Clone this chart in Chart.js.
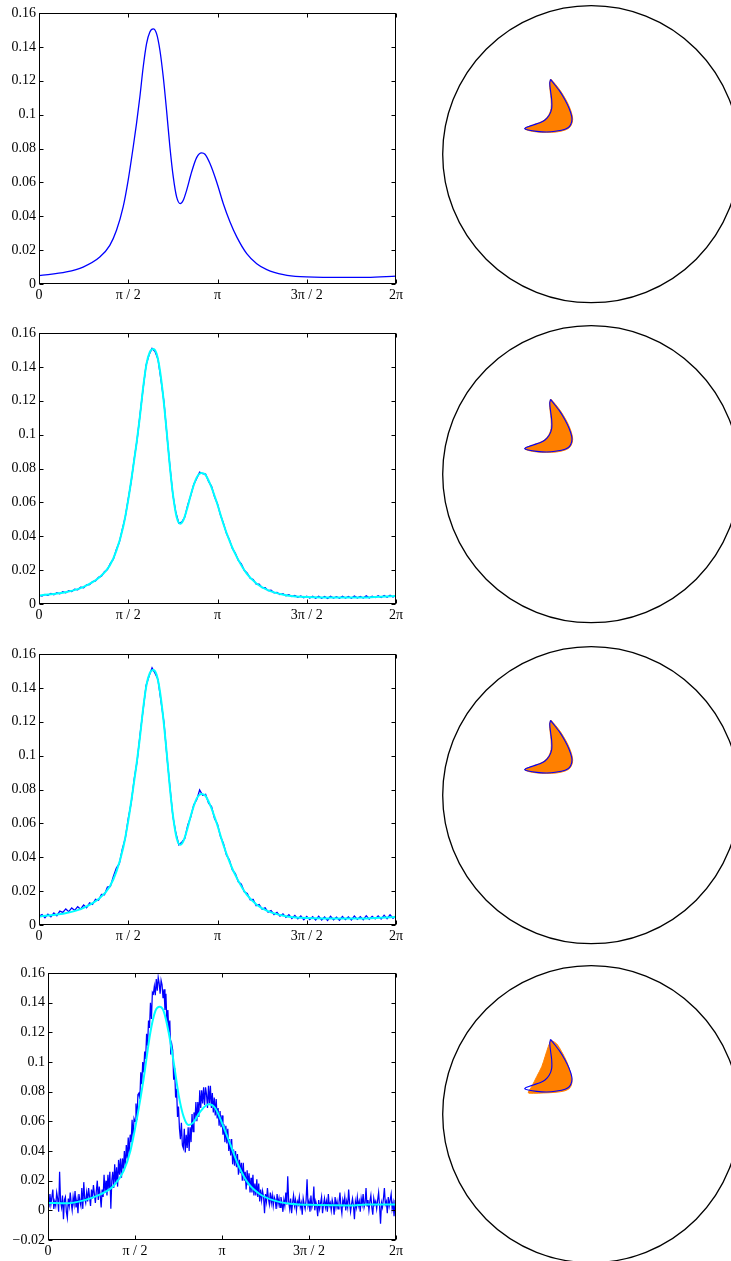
<!DOCTYPE html>
<html><head><meta charset="utf-8">
<script src="https://cdn.jsdelivr.net/npm/chart.js@4"></script>
<style>
html,body{margin:0;padding:0;background:#fff;}
body{width:731px;height:1261px;overflow:hidden;position:relative;}
canvas{position:absolute;}
</style></head><body>
<canvas id="p1" width="410" height="305" style="left:0;top:0"></canvas>
<canvas id="p2" width="410" height="305" style="left:0;top:320px"></canvas>
<canvas id="p3" width="410" height="305" style="left:0;top:641px"></canvas>
<canvas id="p4" width="410" height="301" style="left:0;top:960px"></canvas>
<canvas id="d1" width="301" height="310" style="left:430px;top:0"></canvas>
<canvas id="d2" width="301" height="310" style="left:430px;top:320px"></canvas>
<canvas id="d3" width="301" height="310" style="left:430px;top:641px"></canvas>
<canvas id="d4" width="301" height="301" style="left:430px;top:960px"></canvas>
<script>
// ---------- tick labels ----------
const xTickValues = [0, Math.PI/2, Math.PI, 3*Math.PI/2, 2*Math.PI];
const xTickLabels = ['0', 'π / 2', 'π', '3π / 2', '2π'];
const yTickValuesA = [0, 0.02, 0.04, 0.06, 0.08, 0.1, 0.12, 0.14, 0.16];
const yTickLabelsA = ['0', '0.02', '0.04', '0.06', '0.08', '0.1', '0.12', '0.14', '0.16'];
const yTickValuesB = [-0.02, 0, 0.02, 0.04, 0.06, 0.08, 0.1, 0.12, 0.14, 0.16];
const yTickLabelsB = ['\u22120.02', '0', '0.02', '0.04', '0.06', '0.08', '0.1', '0.12', '0.14', '0.16'];

// ---------- true density (row 1) and fits of rows 2-3 ----------
const trueTheta = [0, 0.482, 0.776, 1.070, 1.246, 1.364, 1.481, 1.569, 1.658, 1.716, 1.775, 1.834, 1.893, 1.951, 2.010, 2.069, 2.128, 2.187, 2.245, 2.304, 2.363, 2.422, 2.486, 2.539, 2.598, 2.686, 2.774, 2.862, 2.921, 3.009, 3.127, 3.244, 3.362, 3.480, 3.656, 3.832, 4.009, 4.303, 4.597, 5.184, 5.772, 6.283];
const trueValue = [0.0049, 0.0071, 0.0100, 0.0159, 0.0228, 0.0317, 0.0455, 0.0612, 0.0809, 0.0947, 0.1104, 0.1281, 0.1419, 0.1488, 0.1506, 0.1478, 0.1380, 0.1222, 0.1026, 0.0809, 0.0632, 0.0514, 0.0474, 0.0494, 0.0553, 0.0661, 0.0746, 0.0774, 0.0766, 0.0711, 0.0602, 0.0474, 0.0366, 0.0278, 0.0179, 0.0120, 0.0085, 0.0055, 0.0043, 0.0039, 0.0039, 0.0047];

// ---------- fit of row 4 ----------
const fit4Theta = [0, 0.343, 0.644, 0.945, 1.186, 1.366, 1.487, 1.607, 1.727, 1.848, 1.938, 2.016, 2.088, 2.179, 2.269, 2.359, 2.450, 2.540, 2.630, 2.750, 2.901, 3.021, 3.142, 3.292, 3.442, 3.623, 3.834, 4.074, 4.375, 4.857, 5.459, 5.760, 6.283];
const fit4Value = [0.0050, 0.0047, 0.0067, 0.0107, 0.0166, 0.0266, 0.0400, 0.0622, 0.0888, 0.1199, 0.1343, 0.1372, 0.1343, 0.1199, 0.0999, 0.0777, 0.0630, 0.0575, 0.0595, 0.0666, 0.0715, 0.0688, 0.0588, 0.0444, 0.0300, 0.0178, 0.0107, 0.0067, 0.0044, 0.0036, 0.0033, 0.0040, 0.0040];

// ---------- noisy samples (evenly spaced over [0, 2π]) ----------
const noisy2 = [0.0053,0.0047,0.0057,0.0051,0.0062,0.0055,0.0066,0.0060,0.0072,0.0066,
0.0078,0.0073,0.0088,0.0084,0.0099,0.0096,0.0113,0.0114,0.0132,0.0136,
0.0157,0.0164,0.0190,0.0203,0.0240,0.0265,0.0322,0.0364,0.0441,0.0514,
0.0621,0.0724,0.0856,0.0973,0.1124,0.1273,0.1411,0.1471,0.1509,0.1490,
0.1445,0.1325,0.1193,0.0998,0.0814,0.0645,0.0540,0.0477,0.0483,0.0513,
0.0585,0.0640,0.0705,0.0741,0.0778,0.0770,0.0767,0.0723,0.0695,0.0633,
0.0591,0.0525,0.0477,0.0417,0.0380,0.0328,0.0300,0.0258,0.0237,0.0199,
0.0182,0.0152,0.0145,0.0117,0.0117,0.0097,0.0097,0.0079,0.0081,0.0066,
0.0069,0.0056,0.0061,0.0049,0.0055,0.0044,0.0051,0.0040,0.0048,0.0037,
0.0046,0.0035,0.0045,0.0034,0.0046,0.0034,0.0044,0.0033,0.0045,0.0035,
0.0043,0.0034,0.0046,0.0035,0.0044,0.0034,0.0047,0.0036,0.0045,0.0035,
0.0048,0.0036,0.0046,0.0038,0.0048,0.0038,0.0050,0.0040,0.0052,0.0041,0.0051];

const noisy3 = [0.0052,0.0061,0.0043,0.0064,0.0049,0.0071,0.0055,0.0082,0.0074,0.0095,
0.0079,0.0101,0.0086,0.0108,0.0093,0.0118,0.0102,0.0131,0.0122,0.0152,
0.0146,0.0181,0.0179,0.0224,0.0228,0.0287,0.0336,0.0362,0.0448,0.0512,
0.0628,0.0722,0.0861,0.0970,0.1129,0.1271,0.1414,0.1470,0.1518,0.1486,
0.1449,0.1322,0.1197,0.0995,0.0818,0.0642,0.0543,0.0474,0.0489,0.0511,
0.0589,0.0638,0.0709,0.0739,0.0797,0.0766,0.0771,0.0719,0.0699,0.0629,
0.0595,0.0522,0.0481,0.0414,0.0384,0.0325,0.0304,0.0255,0.0241,0.0196,
0.0186,0.0149,0.0151,0.0114,0.0121,0.0094,0.0101,0.0076,0.0085,0.0062,
0.0075,0.0052,0.0066,0.0045,0.0061,0.0039,0.0057,0.0036,0.0053,0.0031,
0.0050,0.0032,0.0049,0.0029,0.0052,0.0030,0.0047,0.0027,0.0051,0.0031,
0.0046,0.0028,0.0050,0.0032,0.0048,0.0030,0.0053,0.0033,0.0049,0.0031,
0.0055,0.0034,0.0051,0.0036,0.0054,0.0035,0.0058,0.0037,0.0060,0.0040,0.0055];

const noisy4 = [
0.007,0.002,0.011,0.004,0.009,0.014,0.001,0.006,0.003,0.012,0.008,-0.001,0.026,0.006,0.002,0.010,-0.006,0.007,0.009,-0.001,
-0.005,0.008,0.003,0.012,0.005,0.000,0.009,0.004,0.013,0.002,0.007,-0.002,0.011,0.006,0.003,0.015,0.001,0.019,0.008,0.005,
0.012,0.006,0.015,0.009,0.003,0.014,0.008,0.017,0.011,0.005,0.013,0.020,0.007,0.016,0.010,0.002,0.014,0.009,0.024,0.012,
0.020,0.010,0.024,0.014,0.026,0.001,0.020,0.026,0.015,0.031,0.018,0.029,0.016,0.034,0.024,0.035,0.022,0.035,0.028,0.040,
0.029,0.044,0.035,0.049,0.037,0.051,0.046,0.061,0.049,0.062,0.060,0.072,0.061,0.078,0.079,0.075,0.093,0.085,0.100,0.093,
0.107,0.102,0.119,0.111,0.128,0.123,0.140,0.129,0.147,0.146,0.151,0.145,0.156,0.148,0.157,0.153,0.146,0.155,0.152,0.143,
0.149,0.135,0.146,0.126,0.135,0.120,0.128,0.105,0.112,0.108,0.088,0.096,0.076,0.082,0.063,0.070,0.055,0.048,0.059,0.044,
0.042,0.055,0.039,0.051,0.042,0.056,0.040,0.056,0.046,0.065,0.053,0.066,0.060,0.073,0.060,0.073,0.063,0.081,0.069,0.081,
0.072,0.083,0.071,0.083,0.078,0.069,0.084,0.072,0.084,0.069,0.079,0.066,0.076,0.064,0.075,0.062,0.069,0.057,0.067,0.056,
0.064,0.051,0.058,0.046,0.057,0.045,0.055,0.040,0.048,0.037,0.048,0.031,0.041,0.030,0.040,0.029,0.038,0.024,0.034,0.025,
0.032,0.020,0.032,0.020,0.026,0.014,0.027,0.017,0.025,0.012,0.022,0.012,0.024,0.010,0.018,0.010,0.021,0.009,0.018,0.006,
0.014,0.007,0.013,0.009,-0.002,0.011,0.006,0.015,0.008,0.004,0.012,0.005,0.010,0.003,0.009,0.007,0.001,0.011,0.004,0.008,
0.002,0.009,0.005,-0.001,0.007,0.003,0.012,0.004,0.023,0.006,0.001,0.008,-0.002,0.005,0.010,0.003,0.007,0.000,0.006,0.004,
0.009,0.002,0.005,-0.003,0.008,0.004,0.001,0.007,0.021,0.003,0.006,-0.001,0.010,0.002,0.005,0.016,0.000,0.006,0.003,-0.004,
0.007,0.001,0.005,0.009,-0.002,0.004,0.008,0.002,0.006,-0.001,0.011,0.003,0.005,0.000,0.007,0.004,-0.003,0.009,0.002,0.006,
0.001,0.005,0.012,0.003,-0.002,0.007,0.004,0.009,0.000,0.006,0.002,0.014,0.005,-0.001,0.004,0.008,0.003,-0.006,0.006,0.002,
0.009,0.003,0.006,-0.001,0.008,0.004,0.011,0.002,0.005,0.015,0.003,0.007,0.000,0.006,0.010,0.002,-0.003,0.008,0.004,0.006,
0.001,0.007,0.012,0.003,-0.009,0.005,0.002,0.008,0.015,0.004,0.006,-0.002,0.009,0.003,0.007,0.011,0.001,0.005,-0.004,0.006,0.005];

// ---------- crescent shapes in the unit disk (u = right, v = up) ----------
const shapeTrueU = [-0.274,-0.244,-0.210,-0.176,-0.149,-0.131,-0.131,-0.147,-0.176,-0.232,-0.300,-0.367,-0.424,-0.448,-0.434,-0.390,-0.345,-0.311,-0.282,-0.266,-0.266,-0.273,-0.279,-0.274];
const shapeTrueV = [0.504,0.466,0.421,0.365,0.309,0.253,0.219,0.185,0.168,0.156,0.150,0.154,0.163,0.172,0.181,0.197,0.212,0.230,0.264,0.309,0.365,0.421,0.477,0.504];
const shapeEstU = [-0.272,-0.240,-0.205,-0.170,-0.143,-0.126,-0.127,-0.144,-0.175,-0.232,-0.300,-0.367,-0.424,-0.448,-0.434,-0.390,-0.345,-0.313,-0.285,-0.270,-0.270,-0.276,-0.281,-0.272];
const shapeEstV = [0.506,0.470,0.424,0.366,0.309,0.252,0.216,0.181,0.163,0.150,0.147,0.150,0.160,0.172,0.182,0.198,0.214,0.232,0.266,0.309,0.365,0.421,0.477,0.506];
const shapeEst4U = [-0.271,-0.232,-0.199,-0.165,-0.138,-0.129,-0.143,-0.176,-0.244,-0.323,-0.390,-0.424,-0.401,-0.367,-0.333,-0.311,-0.289,-0.271];
const shapeEst4V = [0.500,0.473,0.421,0.354,0.275,0.219,0.178,0.158,0.147,0.143,0.141,0.145,0.185,0.253,0.320,0.387,0.455,0.500];
const diskCenterU = [0];
const diskCenterV = [0];

// ---------- helpers ----------
const TWO_PI = 2*Math.PI;
const pts = (xs, ys) => ys.map((y, i) => ({x: xs[i], y}));
const even = ys => ys.map((y, i) => ({x: i*TWO_PI/(ys.length-1), y}));

Chart.defaults.font.family = "'Liberation Serif','Times New Roman',serif";
Chart.defaults.font.size = 14;
Chart.defaults.color = '#000';

const frame = {
  id: 'frame',
  afterDraw(chart) {
    const {ctx, chartArea: a, scales: {x, y}} = chart;
    ctx.save();
    ctx.strokeStyle = '#000';
    ctx.lineWidth = 1;
    const L = Math.round(a.left) + 0.5, R = Math.round(a.right) - 0.5;
    const T = Math.round(a.top) + 0.5, B = Math.round(a.bottom) - 0.5;
    ctx.strokeRect(L, T, R - L, B - T);
    ctx.beginPath();
    x.ticks.forEach(t => {
      const p = Math.round(x.getPixelForValue(t.value)) + 0.5;
      ctx.moveTo(p, B); ctx.lineTo(p, B - 4);
      ctx.moveTo(p, T); ctx.lineTo(p, T + 4);
    });
    y.ticks.forEach(t => {
      const p = Math.round(y.getPixelForValue(t.value)) + 0.5;
      ctx.moveTo(L, p); ctx.lineTo(L + 4, p);
      ctx.moveTo(R, p); ctx.lineTo(R - 4, p);
    });
    ctx.stroke();
    ctx.restore();
  }
};

function smooth(data, color, width) {
  return {data, showLine: true, borderColor: color, borderWidth: width, pointRadius: 0,
          cubicInterpolationMode: 'monotone', fill: false};
}
function jagged(data, color, width) {
  return {data, showLine: true, borderColor: color, borderWidth: width, pointRadius: 0,
          tension: 0, fill: false};
}

function makePlot(id, datasets, yVals, yLabels, yMin, leftW) {
  new Chart(document.getElementById(id), {
    type: 'scatter',
    data: {datasets},
    options: {
      responsive: false, animation: false, events: [],
      layout: {autoPadding: false, padding: {top: 13, right: 14, left: 0, bottom: 0}},
      plugins: {legend: {display: false}, tooltip: {enabled: false}},
      scales: {
        x: {type: 'linear', min: 0, max: TWO_PI,
            grid: {display: false, drawTicks: false, tickLength: 0}, border: {display: false},
            afterBuildTicks: s => { s.ticks = xTickValues.map(v => ({value: v})); },
            ticks: {padding: 3, maxRotation: 0, autoSkip: false, callback: (v, i) => xTickLabels[i]},
            afterFit: s => { s.height = 21; }},
        y: {type: 'linear', min: yMin, max: 0.16,
            grid: {display: false, drawTicks: false, tickLength: 0}, border: {display: false},
            afterBuildTicks: s => { s.ticks = yVals.map(v => ({value: v})); },
            ticks: {padding: 3, autoSkip: false, callback: (v, i) => yLabels[i]},
            afterFit: s => { s.width = leftW; }}
      }
    },
    plugins: [frame]
  });
}

makePlot('p1', [smooth(pts(trueTheta, trueValue), '#0000ff', 1.3)], yTickValuesA, yTickLabelsA, 0, 39);
makePlot('p2', [smooth(pts(trueTheta, trueValue), '#00ffff', 2), jagged(even(noisy2), '#0000ff', 1.3)], yTickValuesA, yTickLabelsA, 0, 39);
makePlot('p3', [smooth(pts(trueTheta, trueValue), '#00ffff', 2), jagged(even(noisy3), '#0000ff', 1.3)], yTickValuesA, yTickLabelsA, 0, 39);
makePlot('p4', [smooth(pts(fit4Theta, fit4Value), '#00ffff', 2), jagged(even(noisy4), '#0000ff', 1.25)], yTickValuesB, yTickLabelsB, -0.02, 48);

function makeDisk(id, outline, shape, h) {
  const cx = 161.2, cy = 154.2, R = 148.5, W = 301;
  new Chart(document.getElementById(id), {
    type: 'scatter',
    data: {datasets: [
      {data: outline, showLine: true, borderColor: '#0000ff', borderWidth: 1.1, pointRadius: 0, tension: 0.3, fill: false},
      {data: shape, showLine: true, borderColor: '#ff8000', borderWidth: 1, backgroundColor: '#ff8000', pointRadius: 0, tension: 0.3, fill: 'shape'},
      {data: pts(diskCenterU, diskCenterV), showLine: false, pointRadius: R, pointBorderColor: '#000', pointBorderWidth: 1.3, pointBackgroundColor: 'rgba(0,0,0,0)', clip: false}
    ]},
    options: {
      responsive: false, animation: false, events: [],
      layout: {autoPadding: false, padding: 0},
      plugins: {legend: {display: false}, tooltip: {enabled: false}},
      scales: {
        x: {type: 'linear', display: false, min: -cx/R, max: (W - cx)/R},
        y: {type: 'linear', display: false, min: -(h - cy)/R, max: cy/R}
      }
    }
  });
}

makeDisk('d1', pts(shapeTrueU, shapeTrueV), pts(shapeEstU, shapeEstV), 310);
makeDisk('d2', pts(shapeTrueU, shapeTrueV), pts(shapeEstU, shapeEstV), 310);
makeDisk('d3', pts(shapeTrueU, shapeTrueV), pts(shapeEstU, shapeEstV), 310);
makeDisk('d4', pts(shapeTrueU, shapeTrueV), pts(shapeEst4U, shapeEst4V), 301);
</script>
</body></html>
